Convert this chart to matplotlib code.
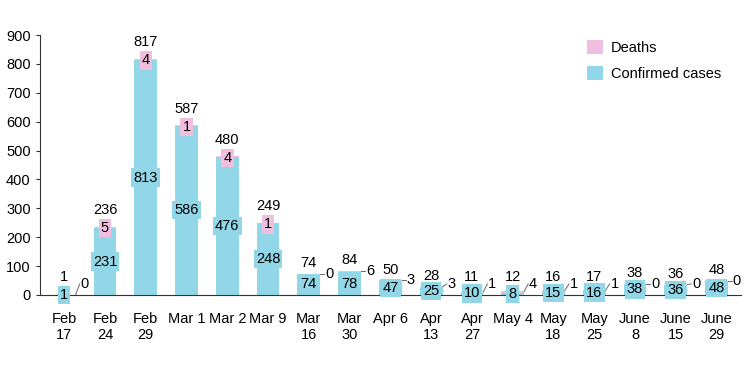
import matplotlib
matplotlib.use('Agg')
import matplotlib.pyplot as plt

plt.rcParams['font.family'] = ['Liberation Sans', 'DejaVu Sans']

dates = ['Feb\n17', 'Feb\n24', 'Feb\n29', 'Mar 1', 'Mar 2', 'Mar 9', 'Mar\n16', 'Mar\n30',
         'Apr 6', 'Apr\n13', 'Apr\n27', 'May 4', 'May\n18', 'May\n25', 'June\n8', 'June\n15', 'June\n29']
cases = [1, 231, 813, 586, 476, 248, 74, 78, 47, 25, 10, 8, 15, 16, 38, 36, 48]
deaths = [0, 5, 4, 1, 4, 1, 0, 6, 3, 3, 1, 4, 1, 1, 0, 0, 0]

cyan = '#91D7E7'
pink = '#F0BFDF'
fs = 10.5

fig = plt.figure(figsize=(7.5, 3.85), dpi=100)
ax = fig.add_axes([0.053, 0.234, 0.935, 0.675])

x = list(range(len(dates)))
w = 0.56
ax.bar(x, cases, width=w, color=cyan, label='Confirmed cases', zorder=2)
ax.bar(x, deaths, width=w, bottom=cases, color=pink, label='Deaths', zorder=2)

for i in x:
    c = cases[i]
    d = deaths[i]
    tot = c + d
    ax.text(i, c / 2, str(c), ha='center', va='center', fontsize=fs, zorder=3,
            bbox=dict(boxstyle='square,pad=0.15', fc=cyan, ec='none'))
    if tot >= 100:
        ax.text(i, tot - 5, str(d), ha='center', va='center', fontsize=fs, zorder=3,
                bbox=dict(boxstyle='square,pad=0.15', fc=pink, ec='none'))
        ax.text(i, tot + 58, str(tot), ha='center', va='center', fontsize=fs)
    else:
        ly = max(tot, 38)
        ax.plot([i + w / 2, i + 0.38], [tot, ly], color='#666666', lw=0.7, zorder=3)
        ax.text(i + 0.40, ly, str(d), ha='left', va='center', fontsize=fs)
        ax.text(i, max(tot, 25) + 37, str(tot), ha='center', va='center', fontsize=fs)

ax.set_xlim(-0.6, 16.6)
ax.set_ylim(0, 900)
ax.set_yticks(range(0, 901, 100))
ax.set_xticks(x)
ax.set_xticklabels(dates, fontsize=fs, linespacing=1.25)
ax.tick_params(axis='x', length=0, pad=12)
ax.tick_params(axis='y', labelsize=fs, length=3, width=0.8, color='#333333')
for s in ['top', 'right']:
    ax.spines[s].set_visible(False)
ax.spines['left'].set_color('#333333')
ax.spines['bottom'].set_color('#333333')

h, l = ax.get_legend_handles_labels()
ax.legend(h[::-1], l[::-1], loc='upper right', bbox_to_anchor=(0.99, 1.03), frameon=False,
          fontsize=fs, handlelength=1.1, handleheight=1.1, handletextpad=0.5, labelspacing=0.75)

plt.savefig('out.png', dpi=100)
